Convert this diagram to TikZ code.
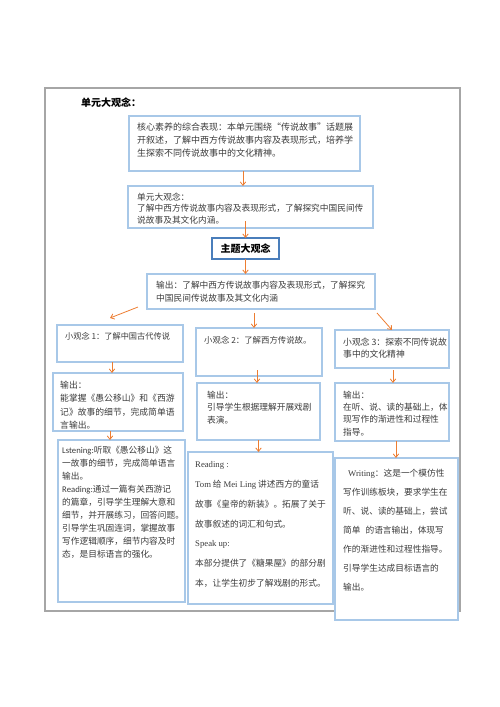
\documentclass[tikz,border=0pt]{standalone}
\usepackage{fontspec}
\setmainfont{Noto Sans CJK SC}
\newfontfamily\latr{Liberation Serif}
\newfontfamily\latc{Carlito}
\usetikzlibrary{arrows.meta,calc}
\definecolor{boxblue}{HTML}{A8C8E8}
\definecolor{darkblue}{HTML}{4A7EBB}
\definecolor{arrorange}{HTML}{ED7D31}
\definecolor{txtgray}{HTML}{3C3C3C}
\definecolor{framegray}{HTML}{A6A6A6}
\newcommand{\fs}[2]{\fontsize{#1}{#2}\selectfont}
\begin{document}
\begin{tikzpicture}[x=1pt,y=-1pt,
  box/.style={draw=boxblue,line width=2.2pt,fill=white,anchor=north west,inner sep=0pt,outer sep=0pt},
  txt/.style={anchor=north west,inner sep=0pt,align=left,text=txtgray},
  arr/.style={draw=arrorange,line width=0.8pt,-{Straight Barb[length=3.5pt,width=5.5pt]}}]
\useasboundingbox (0,0) rectangle (500,707);
% outer frame
\draw[framegray,line width=1.4pt] (45,88) rectangle (460,611);
\node[anchor=west,inner sep=0pt,font=\fs{10}{12}\bfseries] (title) at (81,103) {单元大观念：};

% boxes
\node[box,minimum width=231pt,minimum height=55pt] (b1) at (129,116) {};
\node[box,minimum width=245pt,minimum height=42pt] (b2) at (128,186) {};
\node[box,draw=darkblue,line width=1.8pt,minimum width=67pt,minimum height=21pt] (b3) at (212,238) {};
\node[box,minimum width=228pt,minimum height=35pt] (b4) at (147,274) {};
\node[box,minimum width=126pt,minimum height=37pt] (m1) at (57,325) {};
\node[box,minimum width=126pt,minimum height=48pt] (m2) at (196,328) {};
\node[box,minimum width=114pt,minimum height=38pt] (m3) at (335,330) {};
\node[box,minimum width=130pt,minimum height=58pt] (o1) at (53,373) {};
\node[box,minimum width=123pt,minimum height=57pt] (o2) at (197,383) {};
\node[box,minimum width=114pt,minimum height=58pt] (o3) at (335,383) {};
\node[box,minimum width=127pt,minimum height=162pt] (d1) at (58,440) {};
\node[box,minimum width=145pt,minimum height=152pt] (d2) at (188,452) {};
\node[box,minimum width=123pt,minimum height=162pt] (d3) at (335,458) {};

% texts
\node[txt,font=\fs{9}{13}] (t1) at (137,122.5) {核心素养的综合表现：本单元围绕“传说故事”话题展\\开叙述，了解中西方传说故事内容及表现形式，培养学\\生探索不同传说故事中的文化精神。};
\node[txt,font=\fs{8.7}{11.5}] (t2) at (137,192.6) {单元大观念：\\了解中西方传说故事内容及表现形式，了解探究中国民间传\\说故事及其文化内涵。};
\node[inner sep=0pt,font=\fs{10}{12}\bfseries] (t3) at (b3.center) {主题大观念};
\node[txt,font=\fs{8.7}{13}] (t4) at (156,280.6) {输出：了解中西方传说故事内容及表现形式，了解探究\\中国民间传说故事及其文化内涵};
\node[txt,anchor=west,font=\fs{8.2}{12}] (tm1) at (65,336) {小观念 1：了解中国古代传说};
\node[txt,anchor=west,font=\fs{8.4}{12}] (tm2) at (204,340) {小观念 2：了解西方传说故。};
\node[txt,font=\fs{8.8}{12}] (tm3) at (343,337.6) {小观念 3：探索不同传说故\\事中的文化精神};
\node[txt,font=\fs{8.8}{13.5}] (to1) at (60,380.6) {输出：\\能掌握《愚公移山》和《西游\\记》故事的细节，完成简单语\\言输出。};
\node[txt,font=\fs{8.7}{12.5}] (to2) at (207,390.6) {输出：\\引导学生根据理解开展戏剧\\表演。};
\node[txt,font=\fs{8.7}{12.3}] (to3) at (343,390.6) {输出：\\在听、说、读的基础上，体\\现写作的渐进性和过程性\\指导。};
\node[txt,font=\fs{8.7}{13.1}] (td1) at (62,445.6) {\vphantom{国}{\latc Lstening:}听取《愚公移山》这\\一故事的细节，完成简单语言\\输出。\\{\latc Reading:}通过一篇有关西游记\\的篇章，引导学生理解大意和\\细节，并开展练习，回答问题。\\引导学生巩固连词，掌握故事\\写作逻辑顺序，细节内容及时\\态，是目标语言的强化。};
\node[txt,font=\fs{8.7}{19.8}] (td2) at (195,460.6) {\vphantom{国}{\latr Reading :}\\{\latr Tom} 给 {\latr Mei Ling} 讲述西方的童话\\故事《皇帝的新装》。拓展了关于\\故事叙述的词汇和句式。\\{\latr Speak up:}\\本部分提供了《糖果屋》的部分剧\\本，让学生初步了解戏剧的形式。};
\node[txt,font=\fs{8.7}{19}] (td3) at (343,468.6) {\vphantom{国}\hspace{5pt}{\latr Writing}：这是一个模仿性\\写作训练板块，要求学生在\\听、说、读的基础上，尝试\\简单\hspace{5pt}的语言输出，体现写\\作的渐进性和过程性指导。\\引导学生达成目标语言的\\输出。};

% arrows
\draw[arr] ($(b1.south)+(-1.5,0)$) -- ($(b1.south |- b2.north)+(-1.5,0)$);
\draw[arr] ($(b3.north |- b2.south)+(0,-7)$) -- (b3.north);
\draw[arr] (b3.south) -- (b3.south |- b4.north);
\draw[arr] ($(b4.south west)+(-9,-2)$) -- ($(m1.north)+(-10,-7)$);
\draw[arr] ($(m2.north)+(-5,-15)$) -- ($(m2.north)+(-5,0)$);
\draw[arr] ($(b4.south east)+(2,4)$) -- (m3.north);
\draw[arr] ($(m1.south)+(-8,0)$) -- ($(m1.south |- o1.north)+(-8,0)$);
\draw[arr] ($(m2.south)+(-2,-6)$) -- ($(m2.south |- o2.north)+(-2,0)$);
\draw[arr] ($(m3.south)+(1,2)$) -- ($(m3.south |- o3.north)+(1,0)$);
\draw[arr] ($(o1.south)+(-8,0)$) -- ($(o1.south |- d1.north)+(-8,0)$);
\draw[arr] (o2.south) -- (o2.south |- d2.north);
\draw[arr] ($(o3.south)+(4,0)$) -- ($(o3.south |- d3.north)+(4,0)$);
\end{tikzpicture}
\end{document}
